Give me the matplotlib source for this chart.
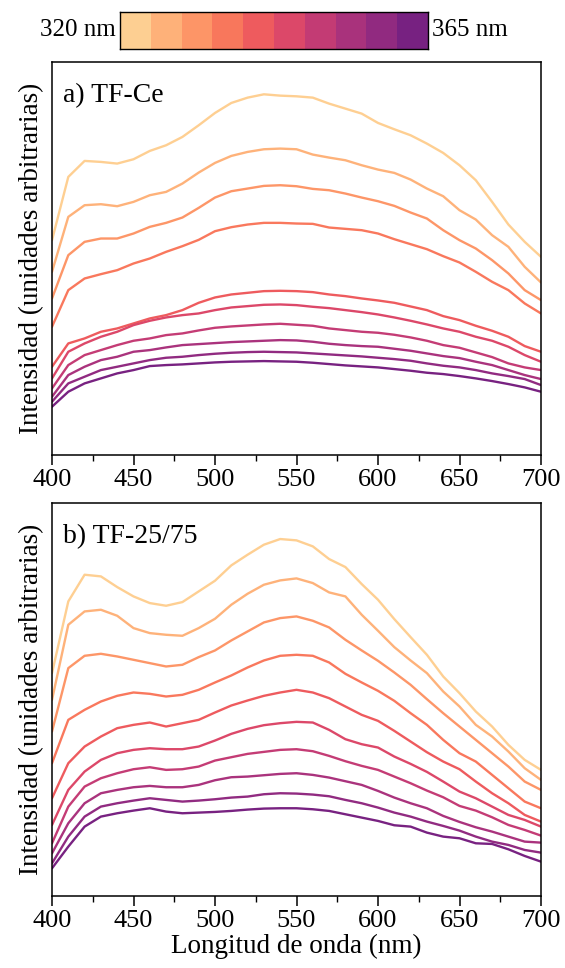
import numpy as np
import matplotlib
matplotlib.use("Agg")
import matplotlib.pyplot as plt
from matplotlib.colors import ListedColormap
from matplotlib.ticker import MultipleLocator

plt.rcParams['font.family'] = ['Liberation Serif', 'DejaVu Serif']

# Wavelength grid (nm)
wavelength = [400, 410, 420, 430, 440, 450, 460, 470, 480, 490, 500,
              510, 520, 530, 540, 550, 560, 570, 580, 590, 600,
              610, 620, 630, 640, 650, 660, 670, 680, 690, 700]

# Excitation wavelengths (nm), 320 -> 365
excitation = [320, 325, 330, 335, 340, 345, 350, 355, 360, 365]

# Panel a) TF-Ce, arbitrary units
tfce_320 = [645, 835, 883, 880, 875, 888, 913, 930, 955, 990, 1027, 1057, 1073, 1083, 1079, 1077, 1073, 1055, 1040, 1025, 997, 978, 960, 935, 907, 870, 825, 760, 692, 640, 595]
tfce_325 = [550, 715, 750, 753, 747, 760, 780, 790, 815, 848, 877, 898, 910, 918, 920, 918, 902, 893, 885, 870, 857, 847, 827, 800, 777, 735, 707, 660, 625, 565, 518]
tfce_330 = [470, 600, 640, 650, 650, 665, 685, 697, 713, 742, 773, 792, 800, 808, 810, 807, 799, 795, 785, 773, 762, 748, 728, 710, 675, 645, 620, 585, 545, 495, 465]
tfce_335 = [385, 495, 530, 543, 555, 575, 590, 610, 627, 646, 672, 684, 692, 697, 697, 695, 694, 683, 679, 675, 665, 648, 633, 618, 597, 578, 550, 520, 495, 455, 425]
tfce_340 = [265, 335, 350, 370, 380, 395, 410, 420, 435, 457, 473, 482, 487, 492, 493, 492, 489, 482, 477, 470, 464, 457, 446, 435, 417, 405, 388, 373, 355, 327, 310]
tfce_345 = [230, 310, 335, 355, 370, 390, 403, 413, 420, 425, 435, 443, 447, 451, 452, 450, 445, 441, 435, 429, 422, 413, 403, 392, 380, 370, 355, 343, 325, 300, 280]
tfce_350 = [200, 270, 300, 315, 330, 343, 350, 360, 365, 374, 382, 386, 389, 392, 394, 391, 388, 380, 375, 370, 367, 361, 353, 343, 330, 322, 308, 294, 275, 263, 255]
tfce_355 = [175, 240, 265, 285, 295, 310, 315, 323, 330, 333, 336, 339, 341, 343, 345, 344, 340, 334, 330, 327, 325, 319, 313, 305, 297, 291, 280, 270, 255, 240, 228]
tfce_360 = [160, 215, 235, 255, 265, 275, 285, 292, 295, 300, 304, 307, 309, 310, 309, 308, 305, 302, 299, 296, 292, 288, 283, 275, 268, 263, 255, 245, 237, 228, 210]
tfce_365 = [145, 190, 215, 230, 245, 255, 267, 270, 272, 275, 278, 280, 281, 282, 281, 280, 277, 273, 269, 266, 263, 258, 253, 247, 243, 237, 230, 222, 213, 203, 190]

# Panel b) TF-25/75, arbitrary units
tf2575_320 = [668, 883, 963, 958, 926, 898, 878, 870, 881, 913, 945, 991, 1023, 1053, 1070, 1066, 1048, 1010, 986, 935, 888, 830, 776, 723, 658, 608, 553, 508, 453, 408, 378]
tf2575_325 = [588, 813, 853, 858, 840, 803, 788, 783, 780, 803, 831, 873, 906, 933, 946, 952, 938, 910, 898, 843, 795, 746, 706, 668, 613, 568, 513, 478, 433, 383, 348]
tf2575_330 = [493, 683, 720, 726, 718, 708, 698, 688, 693, 716, 736, 766, 793, 820, 833, 838, 825, 805, 768, 736, 705, 670, 633, 590, 548, 508, 468, 428, 388, 343, 318]
tf2575_335 = [398, 528, 558, 583, 600, 610, 606, 598, 603, 618, 640, 661, 685, 706, 720, 723, 720, 700, 666, 640, 615, 585, 548, 513, 468, 428, 403, 363, 323, 283, 263]
tf2575_340 = [293, 398, 448, 478, 503, 513, 520, 508, 518, 528, 550, 571, 586, 600, 610, 618, 610, 593, 568, 543, 525, 495, 463, 431, 403, 380, 343, 308, 278, 243, 223]
tf2575_345 = [213, 318, 373, 408, 428, 438, 443, 440, 440, 448, 466, 486, 501, 512, 518, 522, 520, 498, 470, 455, 445, 418, 396, 372, 343, 313, 293, 268, 243, 228, 208]
tf2575_350 = [158, 268, 328, 353, 368, 380, 386, 378, 380, 388, 406, 416, 426, 432, 438, 440, 434, 420, 404, 390, 378, 358, 338, 316, 296, 270, 256, 236, 213, 198, 181]
tf2575_355 = [128, 218, 278, 308, 318, 326, 330, 326, 326, 333, 347, 356, 358, 362, 366, 368, 363, 355, 344, 333, 315, 295, 278, 263, 240, 222, 206, 193, 178, 163, 160]
tf2575_360 = [98, 178, 238, 268, 278, 286, 293, 288, 283, 286, 290, 295, 298, 305, 308, 307, 304, 299, 288, 278, 265, 250, 238, 223, 210, 196, 178, 163, 153, 138, 130]
tf2575_365 = [83, 148, 208, 238, 248, 256, 263, 253, 248, 250, 252, 255, 259, 262, 263, 263, 260, 255, 245, 235, 225, 212, 208, 190, 178, 173, 158, 156, 140, 120, 103]

panel_a = [tfce_320, tfce_325, tfce_330, tfce_335, tfce_340,
           tfce_345, tfce_350, tfce_355, tfce_360, tfce_365]
panel_b = [tf2575_320, tf2575_325, tf2575_330, tf2575_335, tf2575_340,
           tf2575_345, tf2575_350, tf2575_355, tf2575_360, tf2575_365]

panel_titles = ["a) TF-Ce", "b) TF-25/75"]
xlabel = "Longitud de onda (nm)"
ylabel = "Intensidad (unidades arbitrarias)"
cbar_labels = ["320 nm", "365 nm"]

colors = plt.get_cmap('magma')(np.linspace(0.9, 0.35, len(excitation)))

W, H = 565, 968
fig = plt.figure(figsize=(W / 100, H / 100), dpi=100)

def fx(px):
    return px / W

def fy(px):
    return 1 - px / H

ax_a = fig.add_axes([fx(52), fy(455), fx(541) - fx(52), fy(62) - fy(455)])
ax_b = fig.add_axes([fx(52), fy(896), fx(541) - fx(52), fy(503) - fy(896)])

for ax, data, title, ytop in [(ax_a, panel_a, panel_titles[0], 1180),
                              (ax_b, panel_b, panel_titles[1], 1178)]:
    for series, c in zip(data, colors):
        ax.plot(wavelength, series, color=c, lw=1.7, solid_joinstyle='round',
                solid_capstyle='round')
    ax.set_xlim(400, 700)
    ax.set_ylim(0, ytop)
    ax.set_yticks([])
    ax.xaxis.set_major_locator(MultipleLocator(50))
    ax.xaxis.set_minor_locator(MultipleLocator(25))
    ax.tick_params(axis='x', which='major', direction='out', length=7, width=1.1,
                   labelsize=19, pad=3, top=False)
    ax.tick_params(axis='x', which='minor', direction='out', length=4, width=1.0,
                   top=False)
    for s in ax.spines.values():
        s.set_linewidth(1.1)
    ax.set_ylabel(ylabel, fontsize=19.5, labelpad=6)
    ax.text(0.023, 0.898, title, transform=ax.transAxes, fontsize=20,
            ha='left', va='baseline')

ax_b.set_xlabel(xlabel, fontsize=19.5)
ax_b.xaxis.label.set_va('baseline')
ax_b.xaxis.set_label_coords(0.5, (896 - 953) / 393)

# discrete colour bar
cax = fig.add_axes([fx(120), fy(49), fx(428) - fx(120), fy(12) - fy(49)])
cax.imshow(np.arange(len(excitation)).reshape(1, -1), cmap=ListedColormap(colors),
           aspect='auto', extent=[0, len(excitation), 0, 1])
cax.set_xticks([])
cax.set_yticks([])
for s in cax.spines.values():
    s.set_linewidth(1.0)
fig.text(fx(116), fy(36), cbar_labels[0], ha='right', va='baseline', fontsize=18)
fig.text(fx(432), fy(36), cbar_labels[1], ha='left', va='baseline', fontsize=18)

fig.savefig("out.png", dpi=100)
